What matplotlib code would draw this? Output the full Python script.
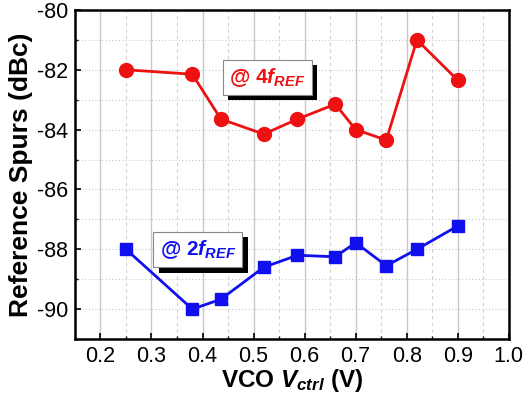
import matplotlib
matplotlib.use("Agg")
import matplotlib.pyplot as plt
import matplotlib.patheffects as pe
from matplotlib.ticker import MultipleLocator

# Control voltage sweep and measured spur levels
vctrl = [0.25, 0.38, 0.436, 0.52, 0.586, 0.66, 0.70, 0.76, 0.82, 0.90]
spur_4fref = [-82.0, -82.15, -83.65, -84.15, -83.65, -83.15, -84.0, -84.35, -81.0, -82.35]
spur_2fref = [-88.0, -90.0, -89.67, -88.6, -88.2, -88.25, -87.78, -88.55, -88.0, -87.22]

xticks = [0.2, 0.3, 0.4, 0.5, 0.6, 0.7, 0.8, 0.9, 1.0]
yticks = [-90, -88, -86, -84, -82, -80]

plt.rcParams["font.family"] = ["Liberation Sans", "DejaVu Sans"]
plt.rcParams["axes.unicode_minus"] = False
plt.rcParams["mathtext.fontset"] = "custom"
plt.rcParams["mathtext.rm"] = "Liberation Sans:bold"
plt.rcParams["mathtext.it"] = "Liberation Sans:bold:italic"
plt.rcParams["mathtext.bf"] = "Liberation Sans:bold"


def main():
    fig = plt.figure(figsize=(5.24, 3.97), dpi=100)
    ax = fig.add_axes([0.143, 0.146, 0.828, 0.829])

    ax.plot(vctrl, spur_4fref, color="#ee1111", linewidth=2, marker="o",
            markersize=10, zorder=3)
    ax.plot(vctrl, spur_2fref, color="#1010ee", linewidth=2, marker="s",
            markersize=9, zorder=3)

    ax.set_xlim(0.15, 1.0)
    ax.set_ylim(-91, -80)
    ax.set_xticks(xticks)
    ax.set_yticks(yticks)
    ax.xaxis.set_minor_locator(MultipleLocator(0.05))
    ax.yaxis.set_minor_locator(MultipleLocator(1))

    ax.grid(which="major", axis="x", color="#c8c8c8", linewidth=1.0, linestyle="-")
    ax.grid(which="minor", axis="x", color="#d0d0d0", linewidth=0.8, linestyle=(0, (3, 3)))
    ax.grid(which="both", axis="y", color="#c8c8c8", linewidth=0.8, linestyle=(0, (1, 2)))
    ax.set_axisbelow(True)

    ax.tick_params(which="major", direction="in", length=4, width=1.2, labelsize=15.5,
                   top=False, right=False, pad=5)
    ax.tick_params(which="minor", direction="in", length=2.5, width=1.0,
                   top=False, right=False)
    for spine in ax.spines.values():
        spine.set_linewidth(1.8)

    ax.set_xlabel(r"VCO $V_{ctrl}$ (V)", fontsize=17.5, fontweight="bold", labelpad=0)
    ax.set_ylabel("Reference Spurs (dBc)", fontsize=19, fontweight="bold", labelpad=3)

    shadow = [pe.withSimplePatchShadow(offset=(4, -4), shadow_rgbFace="black", alpha=1.0)]
    t1 = ax.text(0.452, -82.25, r"@ 4$f_{REF}$", color="#ee1111", fontsize=15,
                 fontweight="bold", ha="left", va="center", zorder=5,
                 bbox=dict(boxstyle="square,pad=0.3", facecolor="white",
                           edgecolor="#888888", linewidth=0.8))
    t1.get_bbox_patch().set_path_effects(shadow)
    t2 = ax.text(0.316, -88.0, r"@ 2$f_{REF}$", color="#1010ee", fontsize=15,
                 fontweight="bold", ha="left", va="center", zorder=5,
                 bbox=dict(boxstyle="square,pad=0.3", facecolor="white",
                           edgecolor="#888888", linewidth=0.8))
    t2.get_bbox_patch().set_path_effects(shadow)

    fig.savefig("out.png", dpi=100)


if __name__ == "__main__":
    main()
